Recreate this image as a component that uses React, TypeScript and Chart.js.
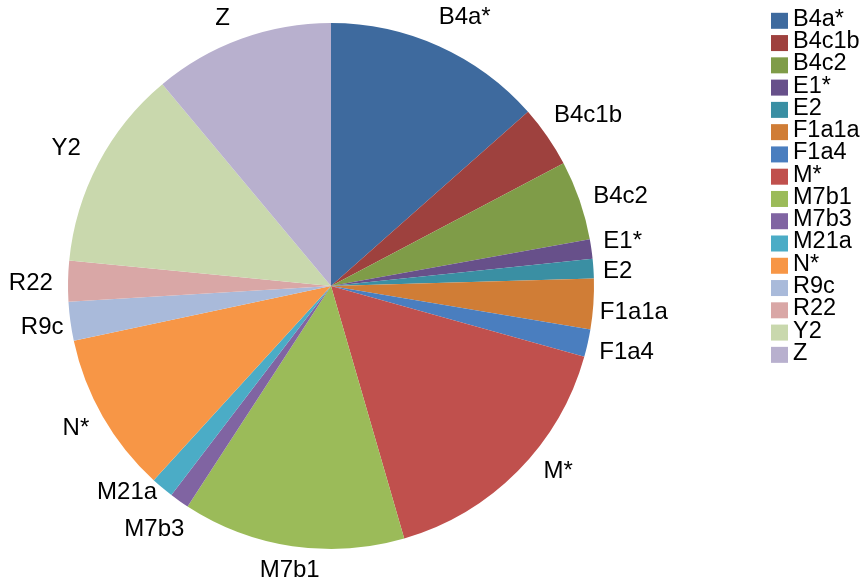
import React, { useEffect, useRef } from "react";
import { Chart, registerables } from "chart.js";

Chart.register(...registerables);

const categories = [
  "B4a*", "B4c1b", "B4c2", "E1*", "E2", "F1a1a", "F1a4", "M*",
  "M7b1", "M7b3", "M21a", "N*", "R9c", "R22", "Y2", "Z",
];
const shares = [
  13.5, 3.8, 4.9, 1.2, 1.2, 3.1, 1.7, 16.2,
  13.7, 1.2, 1.4, 9.9, 2.4, 2.5, 12.4, 11.1,
];
const sliceColors = [
  "#3E6A9E", "#9E413E", "#7F9C48", "#67508A", "#3A8FA3", "#D07D36", "#4A7EBF", "#C0504D",
  "#9BBB59", "#8064A2", "#4BACC6", "#F79646", "#A9BADA", "#D9A7A6", "#C9D8AD", "#B8B0CE",
];
// small label shifts (Excel-like collision layout), in px
const labelNudge: [number, number][] = [
  [13, -2], [4, 3], [3, 8], [0, -4], [-2, 3], [-5, 4], [0, -1], [20, -21],
  [1, -2], [-4, -2], [-11, -26], [-3, -3], [5, 1], [-4, 2], [-7, -2], [-11, 0],
];

const LABEL_FONT = '24px "Liberation Sans", Arial, sans-serif';
const LEGEND_FONT = '23.5px "Liberation Sans", Arial, sans-serif';

const outsideLabels = {
  id: "outsideLabels",
  afterDatasetsDraw(chart: any) {
    const ctx = chart.ctx;
    const meta = chart.getDatasetMeta(0);
    ctx.save();
    ctx.font = LABEL_FONT;
    ctx.fillStyle = "#000000";
    ctx.textAlign = "center";
    ctx.textBaseline = "middle";
    meta.data.forEach((arc: any, i: number) => {
      const p = arc.getProps(["x", "y", "startAngle", "endAngle", "outerRadius"], true);
      const a = (p.startAngle + p.endAngle) / 2;
      const c = Math.cos(a);
      const s = Math.sin(a);
      const label = chart.data.labels[i];
      const w = ctx.measureText(label).width;
      const d = p.outerRadius + 11 + (w / 2) * Math.abs(c) + 10 * Math.abs(s);
      const [nx, ny] = labelNudge[i];
      ctx.fillText(label, p.x + d * c + nx, p.y + d * s + 1 + ny);
    });
    ctx.restore();
  },
};

const sideLegend = {
  id: "sideLegend",
  afterDraw(chart: any) {
    const ctx = chart.ctx;
    const ds = chart.data.datasets[0];
    ctx.save();
    ctx.font = LEGEND_FONT;
    ctx.textAlign = "left";
    ctx.textBaseline = "middle";
    chart.data.labels.forEach((label: string, i: number) => {
      const cy = 20.8 + i * 22.27;
      ctx.fillStyle = ds.backgroundColor[i];
      ctx.fillRect(771, cy - 8, 17, 16);
      ctx.fillStyle = "#000000";
      ctx.fillText(label, 793, cy - 1.5);
    });
    ctx.restore();
  },
};

export default function App() {
  const ref = useRef<HTMLCanvasElement | null>(null);
  useEffect(() => {
    if (!ref.current) return;
    const chart = new Chart(ref.current, {
      type: "pie",
      data: {
        labels: categories,
        datasets: [
          {
            data: shares,
            backgroundColor: sliceColors,
            borderWidth: 0,
            radius: 263,
          } as any,
        ],
      },
      options: {
        responsive: false,
        animation: false,
        layout: { padding: { left: 0, right: 203, top: 0, bottom: 11 } },
        plugins: {
          legend: { display: false },
          tooltip: { enabled: false },
        },
      },
      plugins: [outsideLabels, sideLegend],
    });
    return () => chart.destroy();
  }, []);
  return (
    <div style={{ position: "absolute", left: 0, top: 0, width: 865, height: 583, background: "#ffffff" }}>
      <canvas ref={ref} width={865} height={583} />
    </div>
  );
}
